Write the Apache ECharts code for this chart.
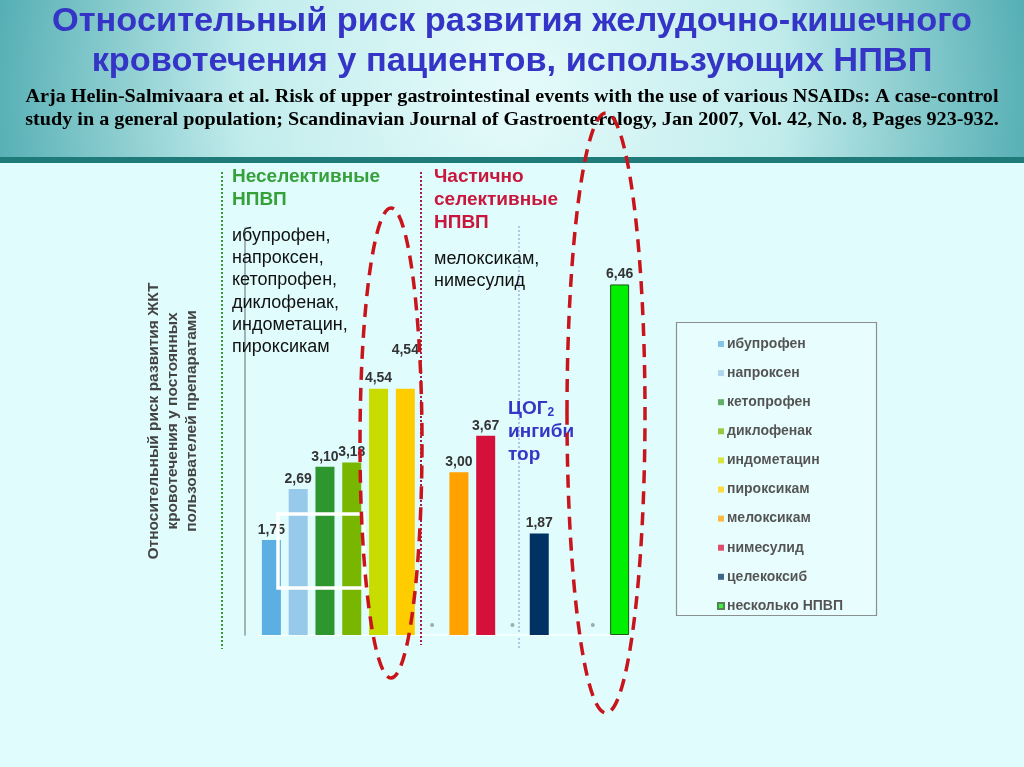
<!DOCTYPE html>
<html><head><meta charset="utf-8">
<script src="https://cdn.jsdelivr.net/npm/echarts@6/dist/echarts.min.js"></script>
<style>html,body{margin:0;padding:0;background:#e0fcfc}#c{width:1024px;height:767px}</style>
</head><body><div id="c"></div>
<script>
// ---- data ----
const categories = ['ибупрофен','напроксен','кетопрофен','диклофенак','индометацин','пироксикам',' ','мелоксикам','нимесулид','  ','целекоксиб','   ','    ','несколько НПВП'];
const drugs = ['ибупрофен','напроксен','кетопрофен','диклофенак','индометацин','пироксикам','мелоксикам','нимесулид','целекоксиб','несколько НПВП'];
const risk = [1.75, 2.69, 3.10, 3.18, 4.54, 4.54, 3.00, 3.67, 1.87, 6.46];
const emptyCategories = [' ', '  ', '    '];
const emptyValues = [0, 0, 0];
const colors = ['#5cafe2','#96c9ea','#2d962f','#78b600','#c9dc00','#ffcc00','#ffa200','#d5103b','#003263','#00ee00'];

const titleLines = ['Относительный риск развития желудочно-кишечного', 'кровотечения у пациентов, использующих НПВП'];
const citationLines = ['Arja Helin-Salmivaara et al. Risk of upper gastrointestinal events with the use of various NSAIDs: A case-control',
  'study in a general population; Scandinavian Journal of Gastroenterology, Jan 2007, Vol. 42, No. 8, Pages 923-932.'];
const yTitle = 'Относительный риск развития ЖКТ\nкровотечения у постоянных\nпользователей препаратами';

const chart = echarts.init(document.getElementById('c'));
const fmt = v => v.toFixed(2).replace('.', ',');

// text width helper for fitting the header lines
const mctx = document.createElement('canvas').getContext('2d');
function fitScale(font, text, target) { mctx.font = font; return target / mctx.measureText(text).width; }

const series = drugs.map((name, i) => {
  const idx = categories.indexOf(name);
  const data = categories.map((c, k) => {
    if (k !== idx) return null;
    const item = { value: risk[i] };
    if (name === 'пироксикам') item.label = { offset: [0, -28] };
    return item;
  });
  const s = {
    name, type: 'bar', stack: 'r', barWidth: 19, data,
    itemStyle: { color: colors[i] },
    label: { show: true, position: 'top', distance: 3, formatter: p => fmt(p.value),
      fontWeight: 'bold', fontSize: 14, color: '#333', fontFamily: 'Liberation Sans, Arial' }
  };
  if (name === 'несколько НПВП') s.itemStyle = { color: colors[i], borderColor: '#1d5a1d', borderWidth: 1 };
  return s;
});
series.push({
  name: 'zero', type: 'scatter', symbol: 'circle', symbolSize: 4, symbolOffset: [0, -10],
  itemStyle: { color: '#8a9898' }, silent: true,
  data: emptyCategories.map((c, i) => [c, emptyValues[i]])
});

const headerFill = new echarts.graphic.RadialGradient(512, 95, 600, [
  { offset: 0, color: '#e6fbfb' }, { offset: 0.45, color: '#c2ecec' }, { offset: 0.88, color: '#52adb2' }, { offset: 1, color: '#4aa6ab' }
], true);

const txtFont = 'Liberation Sans, Arial, sans-serif';
const titleFont = 'bold 34px "Liberation Sans", Arial, sans-serif';
const citeFont = 'bold 19px "Liberation Serif", "Times New Roman", serif';
const tScale = fitScale(titleFont, titleLines[0], 920);
const cScale = fitScale(citeFont, citationLines[0], 973);

const graphic = [
  { type: 'rect', z: -10, shape: { x: 0, y: 0, width: 1024, height: 157 }, style: { fill: headerFill } },
  { type: 'rect', z: -9, shape: { x: 0, y: 157, width: 1024, height: 6 }, style: { fill: '#1f7b79' } },
  // dotted separators
  { type: 'line', z: -5, shape: { x1: 222, y1: 172, x2: 222, y2: 649 }, style: { stroke: '#3a9a3a', lineWidth: 2, lineDash: [2, 2] } },
  { type: 'line', z: -5, shape: { x1: 421, y1: 172, x2: 421, y2: 645 }, style: { stroke: '#a0204a', lineWidth: 2, lineDash: [2, 2] } },
  { type: 'line', z: -5, shape: { x1: 519, y1: 226, x2: 519, y2: 650 }, style: { stroke: '#b4c4ea', lineWidth: 2, lineDash: [2, 2] } },
  // citation
  { type: 'text', z: 5, x: 512, y: 109, scaleX: cScale, style: { text: citationLines.join('\n'), textAlign: 'center', textVerticalAlign: 'middle', font: citeFont, lineHeight: 23, fill: '#000' } },
  // title
  { type: 'text', z: 5, x: 512, y: 42, scaleX: tScale, style: { text: titleLines.join('\n'), textAlign: 'center', textVerticalAlign: 'middle', font: titleFont, lineHeight: 40, fill: '#3434c6' } },
  // y axis title
  { type: 'text', z: 5, x: 173, y: 421, rotation: Math.PI / 2, style: { text: yTitle, textAlign: 'center', textVerticalAlign: 'middle', font: 'bold 15.5px ' + txtFont, lineHeight: 19, fill: '#444' } },
  // group annotations
  { type: 'text', z: 5, x: 232, y: 165, style: { text: 'Неселективные\nНПВП', font: 'bold 19px ' + txtFont, lineHeight: 23, fill: '#36a03a' } },
  { type: 'text', z: 5, x: 232, y: 225, style: { text: 'ибупрофен,\nнапроксен,\nкетопрофен,\nдиклофенак,\nиндометацин,\nпироксикам', font: '18px ' + txtFont, lineHeight: 22.2, fill: '#111' } },
  { type: 'text', z: 5, x: 434, y: 165, style: { text: 'Частично\nселективные\nНПВП', font: 'bold 19px ' + txtFont, lineHeight: 23, fill: '#c8163c' } },
  { type: 'text', z: 5, x: 434, y: 248, style: { text: 'мелоксикам,\nнимесулид', font: '18px ' + txtFont, lineHeight: 22.2, fill: '#111' } },
  { type: 'text', z: 5, x: 508, y: 397, style: { text: '{a|ЦОГ}{s|2}\n{a|ингиби}\n{a|тор}', rich: {
      a: { font: 'bold 19px ' + txtFont, fill: '#3535c6', lineHeight: 23 },
      s: { font: 'bold 12px ' + txtFont, fill: '#3535c6', lineHeight: 23, padding: [9, 0, 0, 0] } } } },
  // white outline artefact
  { type: 'rect', z: 50, shape: { x: 278, y: 514, width: 86, height: 74 }, style: { fill: 'none', stroke: '#ffffff', lineWidth: 3.5 } },
  // legend box
  { type: 'rect', z: 5, shape: { x: 676.5, y: 322.5, width: 200, height: 293 }, style: { fill: 'rgba(255,255,255,0.25)', stroke: '#8a9090', lineWidth: 1.2 } },
  // red dashed ellipses
  { type: 'ellipse', z: 100, shape: { cx: 391, cy: 443, rx: 31, ry: 235 }, style: { fill: 'none', stroke: '#c8141a', lineWidth: 3.5, lineDash: [13, 8] } },
  { type: 'ellipse', z: 100, shape: { cx: 606, cy: 413, rx: 39, ry: 300 }, style: { fill: 'none', stroke: '#c8141a', lineWidth: 3.5, lineDash: [13, 8] } }
];

chart.setOption({
  animation: false,
  grid: { left: 258, right: 391, top: 228, bottom: 132, containLabel: false },
  xAxis: { type: 'category', data: categories, axisLine: { show: true, lineStyle: { color: '#f4ffff', width: 2 } }, axisTick: { show: false }, axisLabel: { show: false } },
  yAxis: { type: 'value', min: 0, max: 7.5, offset: 13, axisLine: { show: true, lineStyle: { color: '#8c9c9c', width: 1.5 } }, axisTick: { show: false }, axisLabel: { show: false }, splitLine: { show: false } },
  legend: { data: drugs, orient: 'vertical', left: 712, top: 331, itemWidth: 6, itemHeight: 6, itemGap: 13.1, icon: 'rect',
    textStyle: { fontSize: 14, fontWeight: 'bold', color: '#1a1a1a', fontFamily: txtFont, lineHeight: 16, padding: [0, 0, 0, -2] } },
  series, graphic
});
</script></body></html>
